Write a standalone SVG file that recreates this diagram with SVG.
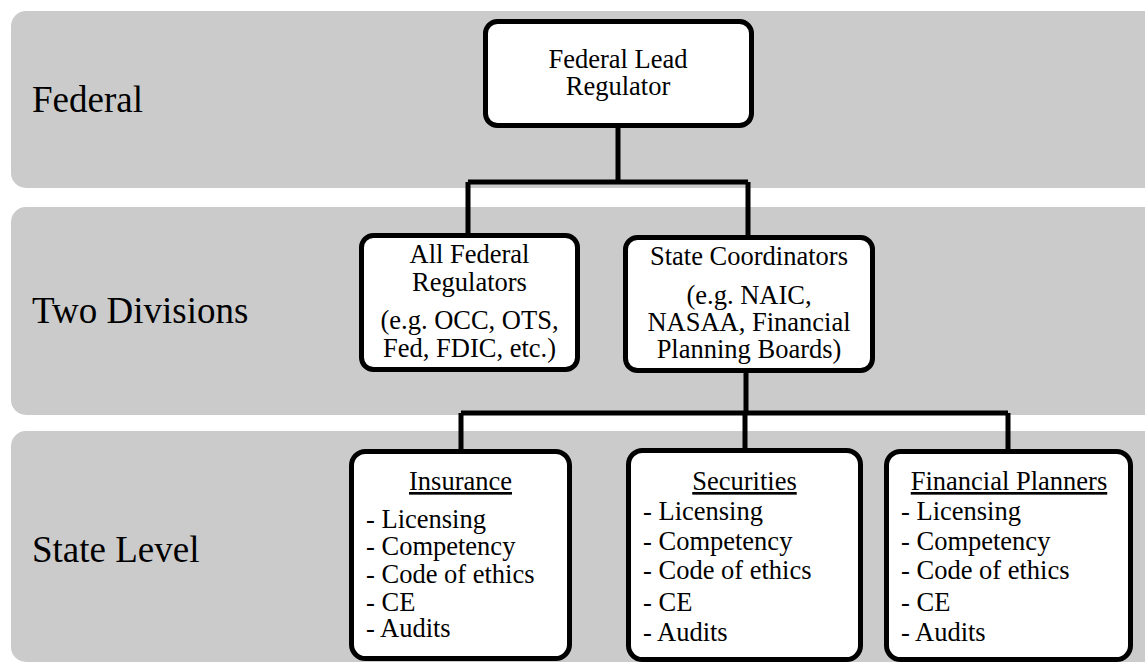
<svg xmlns="http://www.w3.org/2000/svg" width="1145" height="663" viewBox="0 0 1145 663">
<style>
.band{fill:#cbcbcb}
.lbl{font-family:'Liberation Serif','DejaVu Serif',serif;font-size:37px;fill:#000}
.box{fill:#fff;stroke:#000;stroke-width:5}
.t{font-family:'Liberation Serif','DejaVu Serif',serif;font-size:26.5px;fill:#000}
.c{text-anchor:middle}
.u{text-decoration:underline}
.conn{fill:none;stroke:#000;stroke-width:5;stroke-linejoin:miter}
</style>
<rect width="1145" height="663" fill="#fff"/>
<g id="bands">
<rect class="band" x="11" y="11" width="1160" height="177" rx="15"/>
<rect class="band" x="11" y="207" width="1160" height="208" rx="15"/>
<rect class="band" x="11" y="431" width="1160" height="231" rx="15"/>
<text class="lbl" x="32" y="112">Federal</text>
<text class="lbl" x="32" y="323">Two Divisions</text>
<text class="lbl" x="32" y="562">State Level</text>
</g>
<g id="connectors">
<path class="conn" d="M618 128 V182 M468 182 H748 M468 182 V234 M748 182 V236"/>
<path class="conn" d="M746 372 V413 M461 413 H1008 M461 413 V450 M745 413 V450 M1008 413 V450"/>
</g>
<g id="fed-lead">
<rect class="box" x="485.5" y="21.5" width="266" height="104" rx="12"/>
<text class="t c" x="618" y="68">Federal Lead</text>
<text class="t c" x="618" y="95">Regulator</text>
</g>
<g id="all-fed">
<rect class="box" x="361.5" y="235.5" width="216" height="134" rx="12"/>
<text class="t c" x="469.5" y="263">All Federal</text>
<text class="t c" x="469.5" y="291">Regulators</text>
<text class="t c" x="469.5" y="329">(e.g. OCC, OTS,</text>
<text class="t c" x="469.5" y="357">Fed, FDIC, etc.)</text>
</g>
<g id="state-coord">
<rect class="box" x="625.5" y="237.5" width="247" height="133" rx="12"/>
<text class="t c" x="749" y="265">State Coordinators</text>
<text class="t c" x="749" y="304">(e.g. NAIC,</text>
<text class="t c" x="749" y="331">NASAA, Financial</text>
<text class="t c" x="749" y="358">Planning Boards)</text>
</g>
<g id="insurance">
<rect class="box" x="351.5" y="451.5" width="218" height="207" rx="14"/>
<text class="t c u" x="460.5" y="490">Insurance</text>
<text class="t" x="366" y="528">- Licensing</text>
<text class="t" x="366" y="555">- Competency</text>
<text class="t" x="366" y="583">- Code of ethics</text>
<text class="t" x="366" y="611">- CE</text>
<text class="t" x="366" y="637">- Audits</text>
</g>
<g id="securities">
<rect class="box" x="628.5" y="450.5" width="232" height="209" rx="14"/>
<text class="t c u" x="744.5" y="490">Securities</text>
<text class="t" x="643" y="520">- Licensing</text>
<text class="t" x="643" y="550">- Competency</text>
<text class="t" x="643" y="579">- Code of ethics</text>
<text class="t" x="643" y="611">- CE</text>
<text class="t" x="643" y="641">- Audits</text>
</g>
<g id="fin-planners">
<rect class="box" x="886.5" y="451.5" width="244" height="208" rx="14"/>
<text class="t c u" x="1009" y="490">Financial Planners</text>
<text class="t" x="901" y="520">- Licensing</text>
<text class="t" x="901" y="550">- Competency</text>
<text class="t" x="901" y="579">- Code of ethics</text>
<text class="t" x="901" y="611">- CE</text>
<text class="t" x="901" y="641">- Audits</text>
</g>
</svg>
